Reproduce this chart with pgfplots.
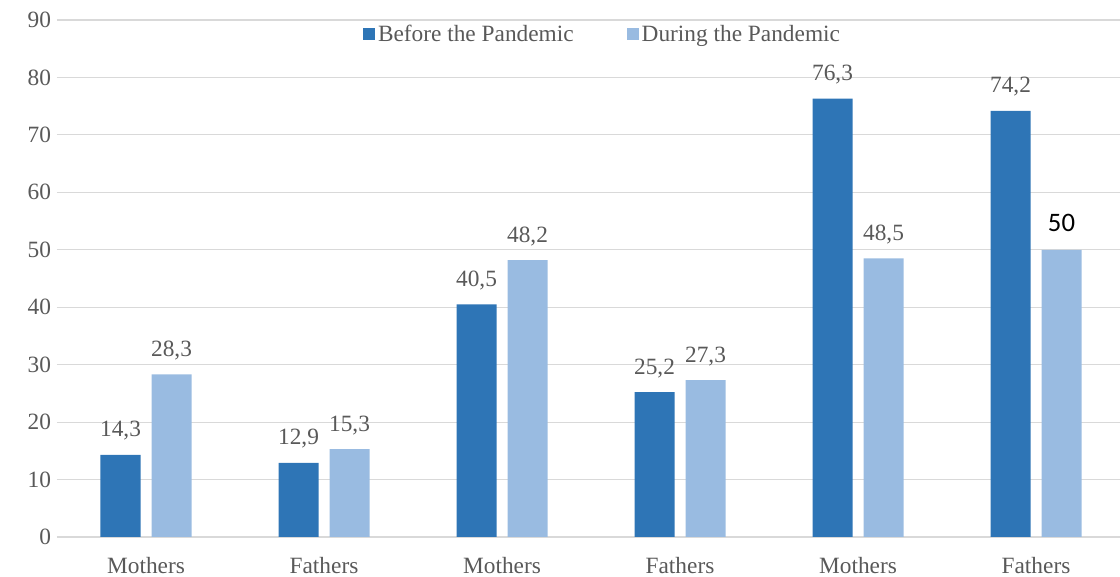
\documentclass[border=0pt]{standalone}
\usepackage{fontspec}
\setmainfont{Liberation Serif}
\newfontfamily\carlito{Carlito}
\usepackage{pgfplots}
\pgfplotsset{compat=1.18}
\definecolor{cdark}{HTML}{2E75B6}
\definecolor{clight}{HTML}{99BBE1}
\definecolor{ctext}{HTML}{595959}
\definecolor{cgrid}{HTML}{D9D9D9}
\newcommand\fifty{{\carlito\fontsize{20pt}{24pt}\selectfont\color{black}50}}
\begin{document}
\begin{tikzpicture}
\begin{axis}[name=ax,
  scale only axis, width=801pt, height=387.75pt,
  ybar=8.25pt, bar width=30pt,
  xmin=-0.5, xmax=5.5, ymin=0, ymax=90,
  ytick={0,10,...,90},
  xtick={0,...,5}, xticklabels={Mothers,Fathers,Mothers,Fathers,Mothers,Fathers},
  major tick length=0pt,
  ymajorgrids, grid style={draw=cgrid, line width=0.9pt},
  axis line style={draw=none},
  font=\fontsize{17.5pt}{21pt}\selectfont,
  tick label style={text=ctext},
  /pgf/number format/assume math mode=true,
  yticklabel style={xshift=-1pt},
  xticklabel style={yshift=-12pt},
  point meta=explicit symbolic,
  nodes near coords,
  every node near coord/.append style={text=ctext, anchor=base, yshift=13.5pt, inner sep=0pt},
  legend style={draw=none, fill=none, at={(0.5,1)}, anchor=center, xshift=9pt, yshift=-10.5pt,
    legend columns=2, /tikz/every even column/.append style={column sep=38pt},
    font=\fontsize{17.5pt}{21pt}\selectfont, text=ctext},
  legend image code/.code={\fill[#1] (0pt,-4.5pt) rectangle (9pt,4.5pt);},
]
\addplot[fill=cdark, draw=none] coordinates {(0,14.3)[14,3] (1,12.9)[12,9] (2,40.5)[40,5] (3,25.2)[25,2] (4,76.3)[76,3] (5,74.2)[74,2]};
\addplot[fill=clight, draw=none] coordinates {(0,28.3)[28,3] (1,15.3)[15,3] (2,48.2)[48,2] (3,27.3)[27,3] (4,48.5)[48,5] (5,50)[\fifty]};
\legend{Before the Pandemic, During the Pandemic}
\end{axis}
\pgfresetboundingbox
\path ([shift={(-42.75pt,-30pt)}]ax.south west) rectangle ([shift={(-3.75pt,15pt)}]ax.north east);
\end{tikzpicture}
\end{document}
